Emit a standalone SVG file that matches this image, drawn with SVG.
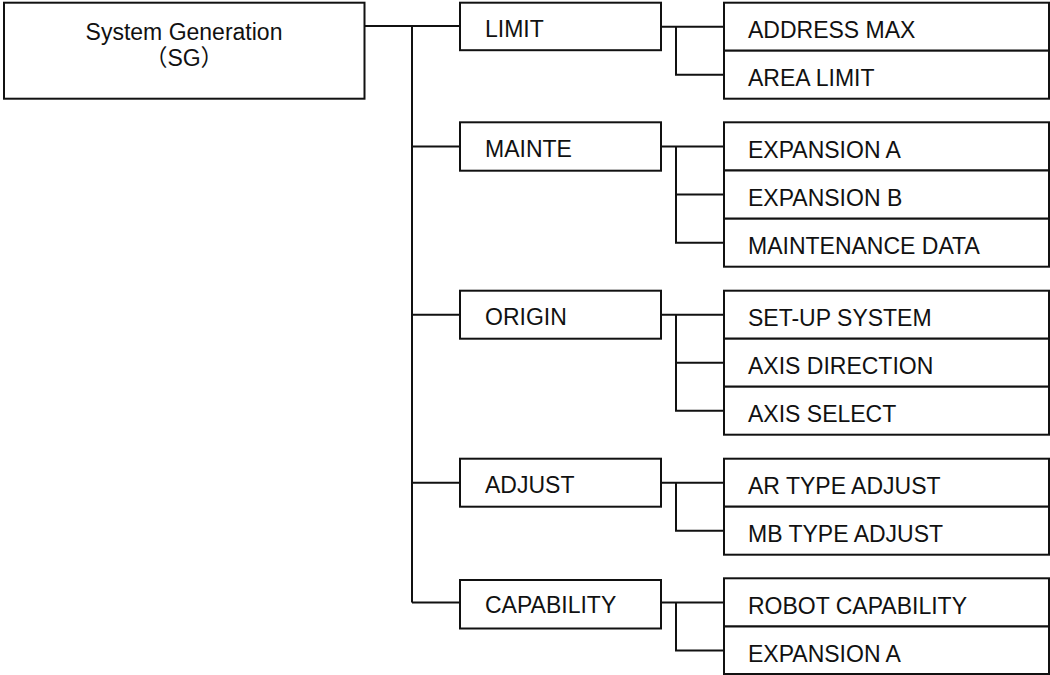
<svg xmlns="http://www.w3.org/2000/svg" width="1050" height="675" viewBox="0 0 1050 675">
<style>
.box{fill:#fff;stroke:#111;stroke-width:2}
.ln{fill:none;stroke:#111;stroke-width:2}
text{font-family:"Liberation Sans",Arial,"Noto Sans CJK JP",sans-serif;font-size:23px;fill:#111}
.c{text-anchor:middle}
</style>
<rect width="1050" height="675" fill="#fff"/>
<g id="connectors">
<path class="ln" d="M364.5 26H460M412 26V602.5M412 146.5H460M412 314.7H460M412 482.7H460M412 602.5H460"/>
<path class="ln" d="M661 26.7H724M676 26.7V74.7H724"/>
<path class="ln" d="M661 146.5H724M676 146.5V242.7H724M676 194.6H724"/>
<path class="ln" d="M661 314.7H724M676 314.7V410.7H724M676 362.7H724"/>
<path class="ln" d="M661 482.7H724M676 482.7V530.7H724"/>
<path class="ln" d="M661 602.5H724M676 602.5V650.5H724"/>
</g>
<g id="sg"><rect class="box" x="4" y="2.7" width="360.5" height="96"/><text class="c" x="184" y="40">System Generation</text><text class="c" x="184" y="66">（SG）</text></g>
<g id="limit"><rect class="box" x="460" y="2.7" width="201" height="47.5"/><text x="485" y="37">LIMIT</text></g>
<g id="mainte"><rect class="box" x="460" y="122.3" width="201" height="48.4"/><text x="485" y="157">MAINTE</text></g>
<g id="origin"><rect class="box" x="460" y="290.7" width="201" height="48"/><text x="485" y="325">ORIGIN</text></g>
<g id="adjust"><rect class="box" x="460" y="458.7" width="201" height="48"/><text x="485" y="493">ADJUST</text></g>
<g id="capability"><rect class="box" x="460" y="580" width="201" height="48.5"/><text x="485" y="613">CAPABILITY</text></g>
<g id="address-max"><rect class="box" x="724" y="2.7" width="325" height="48"/><text x="748" y="38">ADDRESS MAX</text></g>
<g id="area-limit"><rect class="box" x="724" y="50.7" width="325" height="48"/><text x="748" y="86">AREA LIMIT</text></g>
<g id="expansion-a-1"><rect class="box" x="724" y="122.3" width="325" height="48.2"/><text x="748" y="158">EXPANSION A</text></g>
<g id="expansion-b"><rect class="box" x="724" y="170.5" width="325" height="48.2"/><text x="748" y="206">EXPANSION B</text></g>
<g id="maintenance-data"><rect class="box" x="724" y="218.7" width="325" height="48"/><text x="748" y="254">MAINTENANCE DATA</text></g>
<g id="setup-system"><rect class="box" x="724" y="290.7" width="325" height="48"/><text x="748" y="326">SET-UP SYSTEM</text></g>
<g id="axis-direction"><rect class="box" x="724" y="338.7" width="325" height="48"/><text x="748" y="374">AXIS DIRECTION</text></g>
<g id="axis-select"><rect class="box" x="724" y="386.7" width="325" height="48"/><text x="748" y="422">AXIS SELECT</text></g>
<g id="ar-type"><rect class="box" x="724" y="458.7" width="325" height="48"/><text x="748" y="494">AR TYPE ADJUST</text></g>
<g id="mb-type"><rect class="box" x="724" y="506.7" width="325" height="48"/><text x="748" y="542">MB TYPE ADJUST</text></g>
<g id="robot-capability"><rect class="box" x="724" y="578.3" width="325" height="48.2"/><text x="748" y="614">ROBOT CAPABILITY</text></g>
<g id="expansion-a-2"><rect class="box" x="724" y="626.5" width="325" height="47.5"/><text x="748" y="662">EXPANSION A</text></g>
</svg>
